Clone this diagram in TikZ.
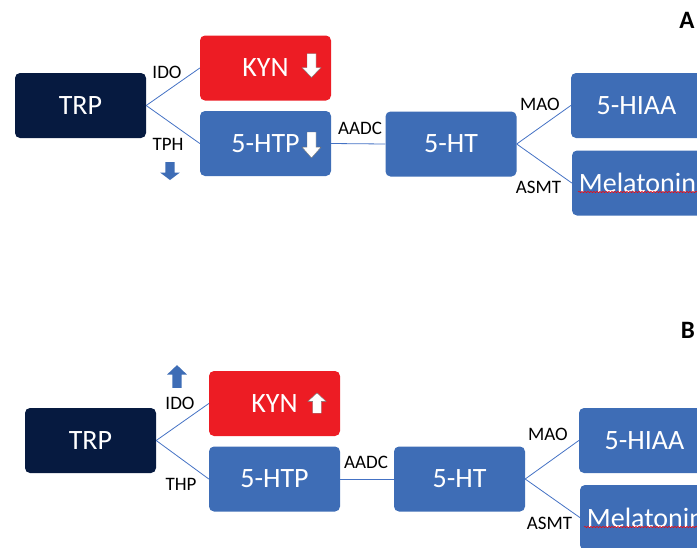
\documentclass[tikz,border=0pt]{standalone}
\usepackage{fontspec}
\setmainfont{Carlito}
\usetikzlibrary{decorations.pathmorphing}

\definecolor{trpnavy}{HTML}{061A40}
\definecolor{kynred}{HTML}{ED1C24}
\definecolor{pathblue}{HTML}{3E6DB6}
\definecolor{linkblue}{HTML}{4472C4}

\tikzstyle{block} = [rectangle, fill=pathblue, text=white, inner sep=0pt,
    minimum width=131pt, minimum height=65pt, rounded corners=5pt,
    font=\fontsize{28}{34}\selectfont]
\tikzstyle{line} = [draw, line width=0.8pt, color=linkblue]
\tikzstyle{enzyme} = [inner sep=0pt, font=\fontsize{19}{23}\selectfont]
\tikzstyle{panel} = [inner sep=0pt, font=\fontsize{25}{30}\selectfont\bfseries]
\tikzstyle{typo} = [draw=red, line width=0.5pt, decorate,
    decoration={snake, amplitude=0.7pt, segment length=3pt}]
\tikzstyle{hollow} = [fill=white, draw=black!55, line width=0.4pt]
\tikzstyle{solid} = [fill=pathblue]

% block arrow pointing down, centred on the pic origin
\tikzset{blockarrow/.pic={
    \path[pic actions] (-4.5,-12) -- (4.5,-12) -- (4.5,2) -- (9.5,2)
        -- (0,12) -- (-9.5,2) -- (-4.5,2) -- cycle;
}}

\begin{document}
\begin{tikzpicture}[x=1pt, y=-1pt]
	\useasboundingbox (0,0) rectangle (697,547);
	\clip (0,0) rectangle (697,547);

	% Panel A nodes
	\node [panel] (LabelA) at (687,20) {A};
	\node [block, fill=trpnavy] (TrpA) at (80.5,105.5) {TRP};
	\node [block, fill=kynred] (KynA) at (265.5,68) {KYN};
	\node [block] (HtpA) at (265.5,143.5) {5-HTP};
	\node [block] (SerotoninA) at (451,144) {5-HT};
	\node [block] (HiaaA) at (636.5,105.5) {5-HIAA};
	\node [block] (MelatoninA) at (637.5,183) {Melatonin};
	\draw [typo] (578,192) -- (697,192);

	\pic [hollow] at (311.5,65.5) {blockarrow};
	\pic [hollow, yscale=1.08] at (311.5,145) {blockarrow};
	\pic [solid, xscale=1.05, yscale=0.75] at (170,171) {blockarrow};

	% Panel A enzymes
	\node [enzyme] (IdoA) at (167,72) {IDO};
	\node [enzyme] (TphA) at (168,144) {TPH};
	\node [enzyme] (AadcA) at (360,128.5) {AADC};
	\node [enzyme] (MaoA) at (540,104) {MAO};
	\node [enzyme] (AsmtA) at (538.5,187.5) {ASMT};

	% Panel A links
	\path [line] (TrpA.east) -- (KynA.west);
	\path [line] (TrpA.east) -- (HtpA.west);
	\path [line] (HtpA.east) -- (SerotoninA.west);
	\path [line] (SerotoninA.east) -- (HiaaA.west);
	\path [line] (SerotoninA.east) -- (MelatoninA.west);

	% Panel B nodes
	\node [panel] (LabelB) at (688,330) {B};
	\node [block, fill=trpnavy] (TrpB) at (90.5,440.5) {TRP};
	\node [block, fill=kynred] (KynB) at (274.5,403.5) {KYN};
	\node [block] (HtpB) at (274.5,479) {5-HTP};
	\node [block] (SerotoninB) at (459.5,479) {5-HT};
	\node [block] (HiaaB) at (644.5,440.5) {5-HIAA};
	\node [block] (MelatoninB) at (645.5,517.5) {Melatonin};
	\draw [typo] (584,527) -- (697,527);

	\pic [hollow, rotate=180, xscale=0.95, yscale=0.85] at (317,403) {blockarrow};
	\pic [solid, rotate=180, xscale=1.05, yscale=0.95] at (177,376.5) {blockarrow};

	% Panel B enzymes
	\node [enzyme] (IdoB) at (180,403.5) {IDO};
	\node [enzyme] (ThpB) at (181,484.5) {THP};
	\node [enzyme] (AadcB) at (366,462.5) {AADC};
	\node [enzyme] (MaoB) at (548,434) {MAO};
	\node [enzyme] (AsmtB) at (549.5,523.5) {ASMT};

	% Panel B links
	\path [line] (TrpB.east) -- (KynB.west);
	\path [line] (TrpB.east) -- (HtpB.west);
	\path [line] (HtpB.east) -- (SerotoninB.west);
	\path [line] (SerotoninB.east) -- (HiaaB.west);
	\path [line] (SerotoninB.east) -- (MelatoninB.west);

\end{tikzpicture}
\end{document}
